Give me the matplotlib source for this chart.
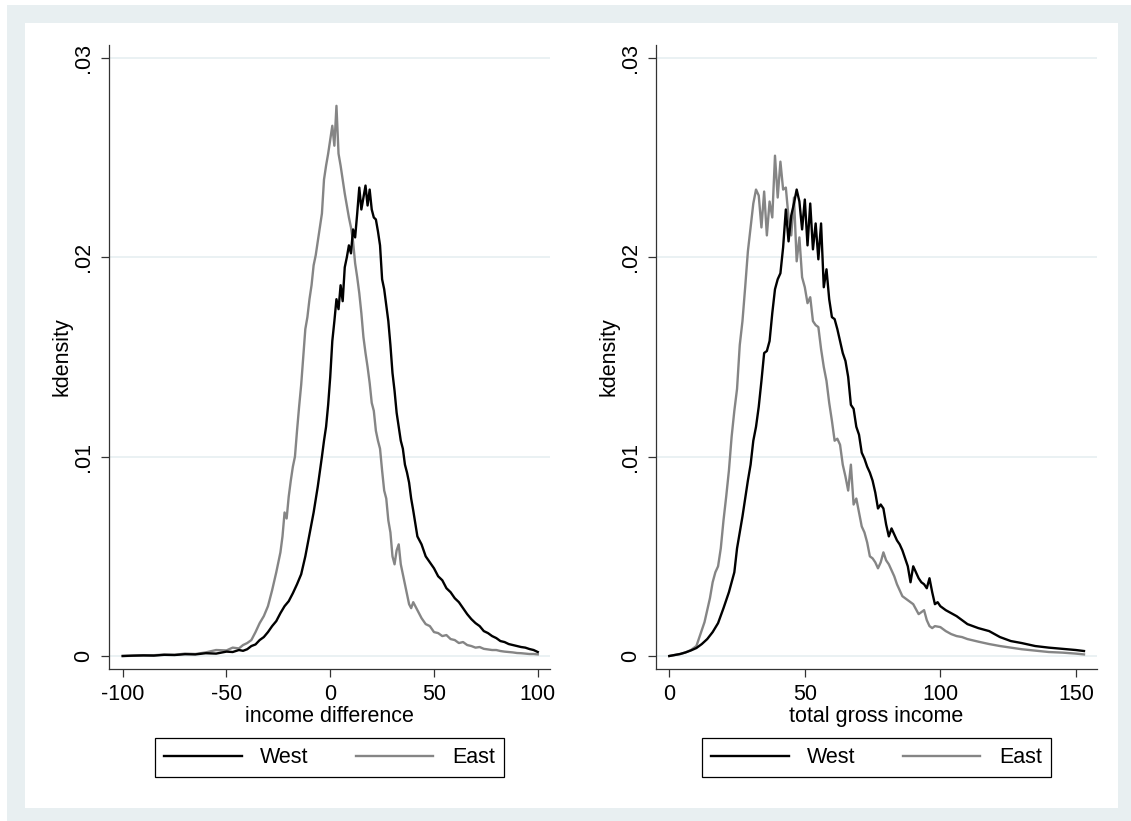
"""Two-panel kdensity plot (income difference / total gross income), West vs East."""

import matplotlib
matplotlib.use("Agg")
import matplotlib.pyplot as plt
from matplotlib.patches import Rectangle

plt.rcParams["font.family"] = ["Liberation Sans", "DejaVu Sans"]
FS = 15.5

WEST_COLOR = "#000000"
EAST_COLOR = "#858585"
BAND = "#e8eff1"
GRID = "#e4edf0"
AXIS = "#333333"

# ---- left panel: income difference ----
LEFT_WEST_X = [-100, -95, -90, -85, -80, -75, -70, -65, -60, -55, -50, -47, -44, -42, -40,
               -38, -36, -34, -32, -30, -28, -26, -24, -22, -20, -18, -16, -14, -12, -10,
               -8, -6, -4, -3, -2, -1, 0, 1, 2, 3, 4, 5, 6, 7, 8, 9, 10, 11, 12, 13, 14,
               15, 16, 17, 18, 19, 20, 21, 22, 23, 24, 25, 26, 27, 28, 29, 30, 31, 32, 33,
               34, 35, 36, 37, 38, 39, 40, 42, 44, 46, 48, 50, 52, 54, 56, 58, 60, 62, 64,
               66, 68, 70, 72, 74, 76, 78, 80, 82, 84, 86, 88, 90, 92, 94, 96, 98, 100]
LEFT_WEST = [0.00000, 0.00002, 0.00003, 0.00002, 0.00006, 0.00005, 0.00009, 0.00008, 0.00014,
             0.00012, 0.00022, 0.00020, 0.00030, 0.00026, 0.00034,
             0.00050, 0.00058, 0.00080, 0.00095, 0.00120, 0.00150, 0.00175, 0.00215, 0.00250,
             0.00275, 0.00315, 0.00360, 0.00410, 0.00500, 0.00610,
             0.00720, 0.00850, 0.01000, 0.01080, 0.01150, 0.01260, 0.01400, 0.01580, 0.01680,
             0.01790, 0.01740, 0.01860, 0.01780, 0.01950, 0.02000, 0.02060, 0.02020, 0.02140,
             0.02100, 0.02220, 0.02350,
             0.02240, 0.02300, 0.02360, 0.02260, 0.02340, 0.02240, 0.02200, 0.02190, 0.02130,
             0.02060, 0.01890, 0.01840, 0.01760, 0.01680, 0.01560, 0.01420, 0.01330, 0.01220,
             0.01150,
             0.01080, 0.01040, 0.00960, 0.00920, 0.00870, 0.00790, 0.00730, 0.00600, 0.00560,
             0.00500, 0.00470, 0.00440, 0.00400, 0.00380, 0.00340, 0.00320, 0.00290, 0.00270,
             0.00240,
             0.00210, 0.00185, 0.00165, 0.00150, 0.00125, 0.00115, 0.00100, 0.00090, 0.00075,
             0.00070, 0.00060, 0.00055, 0.00050, 0.00045, 0.00042, 0.00035, 0.00030, 0.00020]

LEFT_EAST_X = [-100, -95, -90, -85, -80, -75, -70, -65, -60, -55, -50, -47, -44, -42, -40,
               -38, -36, -34, -32, -30, -28, -26, -24, -23, -22, -21, -20, -19, -18, -17,
               -16, -15, -14, -13, -12, -11, -10, -9, -8, -7, -6, -5, -4, -3, -2, -1, 0,
               1, 2, 3, 4, 5, 6, 7, 8, 9, 10, 11, 12, 13, 14, 15, 16, 17, 18, 19, 20, 21,
               22, 23, 24, 25, 26, 27, 28, 29, 30, 31, 32, 33, 34, 35, 36, 37, 38, 39, 40,
               42, 44, 46, 48, 50, 52, 54, 56, 58, 60, 62, 64, 66, 68, 70, 72, 74, 76, 78,
               80, 82, 84, 86, 88, 90, 92, 94, 96, 98, 100]
LEFT_EAST = [0.00000, 0.00001, 0.00003, 0.00004, 0.00007, 0.00006, 0.00012, 0.00010, 0.00018,
             0.00030, 0.00028, 0.00042, 0.00038, 0.00055, 0.00065,
             0.00080, 0.00120, 0.00165, 0.00200, 0.00250, 0.00330, 0.00420, 0.00520, 0.00600,
             0.00720, 0.00690, 0.00800, 0.00880, 0.00950, 0.01000,
             0.01130, 0.01250, 0.01360, 0.01500, 0.01640, 0.01700, 0.01790, 0.01860, 0.01960,
             0.02010, 0.02080, 0.02150, 0.02220, 0.02390, 0.02460, 0.02520, 0.02590,
             0.02660, 0.02560, 0.02760, 0.02520, 0.02460, 0.02390, 0.02320, 0.02260, 0.02200,
             0.02150, 0.02080, 0.01970, 0.01900, 0.01820, 0.01720, 0.01600, 0.01520, 0.01450,
             0.01370, 0.01270, 0.01230,
             0.01130, 0.01080, 0.01040, 0.00930, 0.00830, 0.00790, 0.00680, 0.00620, 0.00500,
             0.00460, 0.00530, 0.00560, 0.00460, 0.00410, 0.00360, 0.00310, 0.00260, 0.00240,
             0.00270,
             0.00230, 0.00190, 0.00160, 0.00150, 0.00120, 0.00115, 0.00100, 0.00105, 0.00085,
             0.00080, 0.00065, 0.00070, 0.00055, 0.00050, 0.00042, 0.00045, 0.00036, 0.00033,
             0.00030,
             0.00030, 0.00025, 0.00022, 0.00020, 0.00018, 0.00015, 0.00014, 0.00012, 0.00010,
             0.00010, 0.00008]

# ---- right panel: total gross income ----
RIGHT_WEST_X = [0, 2, 4, 6, 8, 10, 12, 14, 16, 18, 20, 22, 24, 25, 26, 27, 28, 29, 30, 31,
                32, 33, 34, 35, 36, 37, 38, 39, 40, 41, 42, 43, 44, 45, 46, 47, 48, 49, 50,
                51, 52, 53, 54, 55, 56, 57, 58, 59, 60, 61, 62, 63, 64, 65, 66, 67, 68, 69,
                70, 71, 72, 73, 74, 75, 76, 77, 78, 79, 80, 81, 82, 83, 84, 85, 86, 87, 88,
                89, 90, 91, 92, 93, 94, 95, 96, 97, 98, 99, 100, 102, 104, 106, 108, 110,
                114, 118, 122, 126, 130, 135, 140, 145, 150, 153]
RIGHT_WEST = [0.00000, 0.00005, 0.00010, 0.00018, 0.00028, 0.00040, 0.00060, 0.00085, 0.00120,
              0.00165, 0.00240, 0.00320, 0.00420, 0.00540, 0.00620, 0.00700, 0.00790, 0.00880,
              0.00960, 0.01080,
              0.01150, 0.01250, 0.01380, 0.01520, 0.01530, 0.01580, 0.01720, 0.01840, 0.01890,
              0.01920, 0.02050, 0.02240, 0.02080, 0.02210, 0.02270, 0.02340, 0.02280, 0.02140,
              0.02290,
              0.02060, 0.02270, 0.02040, 0.02170, 0.01990, 0.02170, 0.01850, 0.01940, 0.01790,
              0.01700, 0.01690, 0.01640, 0.01580, 0.01520, 0.01480, 0.01400, 0.01260, 0.01240,
              0.01150,
              0.01110, 0.01020, 0.00990, 0.00950, 0.00920, 0.00880, 0.00820, 0.00740, 0.00760,
              0.00740, 0.00660, 0.00600, 0.00640, 0.00610, 0.00580, 0.00560, 0.00530, 0.00490,
              0.00450,
              0.00370, 0.00450, 0.00420, 0.00390, 0.00370, 0.00360, 0.00340, 0.00390, 0.00320,
              0.00260, 0.00270, 0.00250, 0.00230, 0.00215, 0.00200, 0.00180, 0.00160,
              0.00140, 0.00125, 0.00095, 0.00075, 0.00065, 0.00050, 0.00042, 0.00036, 0.00030,
              0.00025]

RIGHT_EAST_X = [0, 2, 4, 6, 8, 10, 11, 12, 13, 14, 15, 16, 17, 18, 19, 20, 21, 22, 23, 24,
                25, 26, 27, 28, 29, 30, 31, 32, 33, 34, 35, 36, 37, 38, 39, 40, 41, 42, 43,
                44, 45, 46, 47, 48, 49, 50, 51, 52, 53, 54, 55, 56, 57, 58, 59, 60, 61, 62,
                63, 64, 65, 66, 67, 68, 69, 70, 71, 72, 73, 74, 75, 76, 77, 78, 79, 80, 81,
                82, 83, 84, 85, 86, 88, 90, 92, 94, 95, 96, 97, 98, 100, 102, 104, 106, 108,
                110, 114, 118, 122, 126, 130, 135, 140, 145, 150, 153]
RIGHT_EAST = [0.00000, 0.00005, 0.00010, 0.00018, 0.00030, 0.00050, 0.00090, 0.00130, 0.00170,
              0.00230, 0.00290, 0.00370, 0.00420, 0.00450, 0.00540, 0.00680, 0.00800, 0.00930,
              0.01100, 0.01230,
              0.01340, 0.01560, 0.01680, 0.01850, 0.02030, 0.02150, 0.02270, 0.02340, 0.02310,
              0.02150, 0.02330, 0.02110, 0.02280, 0.02200, 0.02510, 0.02300, 0.02480, 0.02340,
              0.02350,
              0.02200, 0.02110, 0.02300, 0.01980, 0.02100, 0.01900, 0.01850, 0.01770, 0.01800,
              0.01680, 0.01660, 0.01650, 0.01540, 0.01450, 0.01380, 0.01270, 0.01180, 0.01080,
              0.01090,
              0.01060, 0.00960, 0.00900, 0.00830, 0.00960, 0.00760, 0.00790, 0.00720, 0.00650,
              0.00620, 0.00570, 0.00500, 0.00490, 0.00470, 0.00440, 0.00470, 0.00520, 0.00480,
              0.00460,
              0.00430, 0.00400, 0.00360, 0.00330, 0.00300, 0.00280, 0.00260, 0.00210, 0.00230,
              0.00180, 0.00150, 0.00140, 0.00150, 0.00145, 0.00125, 0.00110, 0.00100, 0.00095,
              0.00085, 0.00072, 0.00060, 0.00050, 0.00042, 0.00034, 0.00027, 0.00020, 0.00017,
              0.00012, 0.00008]

Y_TICKS = [0, 0.01, 0.02, 0.03]
Y_TICK_LABELS = ["0", ".01", ".02", ".03"]
LEFT_X_TICKS = [-100, -50, 0, 50, 100]
RIGHT_X_TICKS = [0, 50, 100, 150]

W, H = 1131, 821


def _px(x0, y_top, w, h):
    return [x0 / W, 1 - (y_top + h) / H, w / W, h / H]


fig = plt.figure(figsize=(W / 100, H / 100), dpi=100)
fig.patch.set_facecolor("white")
fig.add_artist(Rectangle((7 / W, 0), 1 - 7 / W, 1 - 5 / H, transform=fig.transFigure,
                         facecolor=BAND, edgecolor="none", zorder=-10))
fig.add_artist(Rectangle((25 / W, 1 - 808 / H), (1118 - 25) / W, (808 - 23) / H,
                         transform=fig.transFigure, facecolor="white", edgecolor="none",
                         zorder=-9))

panels = [
    (_px(109, 45, 441, 624), LEFT_WEST_X, LEFT_WEST, LEFT_EAST_X, LEFT_EAST,
     LEFT_X_TICKS, (-106.6, 105.9), "income difference"),
    (_px(656, 45, 441, 624), RIGHT_WEST_X, RIGHT_WEST, RIGHT_EAST_X, RIGHT_EAST,
     RIGHT_X_TICKS, (-4.9, 157.8), "total gross income"),
]

for rect, wx, wy, ex, ey, xticks, xlim, xlabel in panels:
    ax = fig.add_axes(rect)
    ax.set_facecolor("white")
    ax.plot(wx, wy, color=WEST_COLOR, lw=1.7, label="West", zorder=3)
    ax.plot(ex, ey, color=EAST_COLOR, lw=1.7, label="East", zorder=2)

    ax.set_xlim(*xlim)
    ax.set_ylim(-0.000652, 0.030652)
    ax.set_xticks(xticks)
    ax.set_xticklabels([str(t) for t in xticks], fontsize=FS)
    ax.set_yticks(Y_TICKS)
    ax.set_yticklabels(Y_TICK_LABELS, fontsize=FS, rotation=90, va="center")
    ax.tick_params(axis="both", length=6, width=0.9, color=AXIS, direction="out")
    ax.tick_params(axis="x", pad=5)
    ax.tick_params(axis="y", pad=5)

    ax.yaxis.grid(True, color=GRID, lw=1.1)
    ax.set_axisbelow(True)
    for side in ("top", "right"):
        ax.spines[side].set_visible(False)
    for side in ("left", "bottom"):
        ax.spines[side].set_color(AXIS)
        ax.spines[side].set_linewidth(0.9)

    ax.set_xlabel(xlabel, fontsize=FS, va="center")
    ax.xaxis.set_label_coords(0.5, -0.0765)
    ax.set_ylabel("kdensity", fontsize=FS, va="center")
    ax.yaxis.set_label_coords(-0.1066, 0.5)

    leg = ax.legend(loc="upper center", bbox_to_anchor=(0.5, -0.1106), ncol=2,
                    fontsize=FS, frameon=True, fancybox=False, borderaxespad=0,
                    handlelength=3.6, handletextpad=0.85, columnspacing=2.2,
                    borderpad=0.42)
    frame = leg.get_frame()
    frame.set_edgecolor("#000000")
    frame.set_linewidth(0.9)
    frame.set_alpha(1)

fig.savefig("out.png", dpi=100)
